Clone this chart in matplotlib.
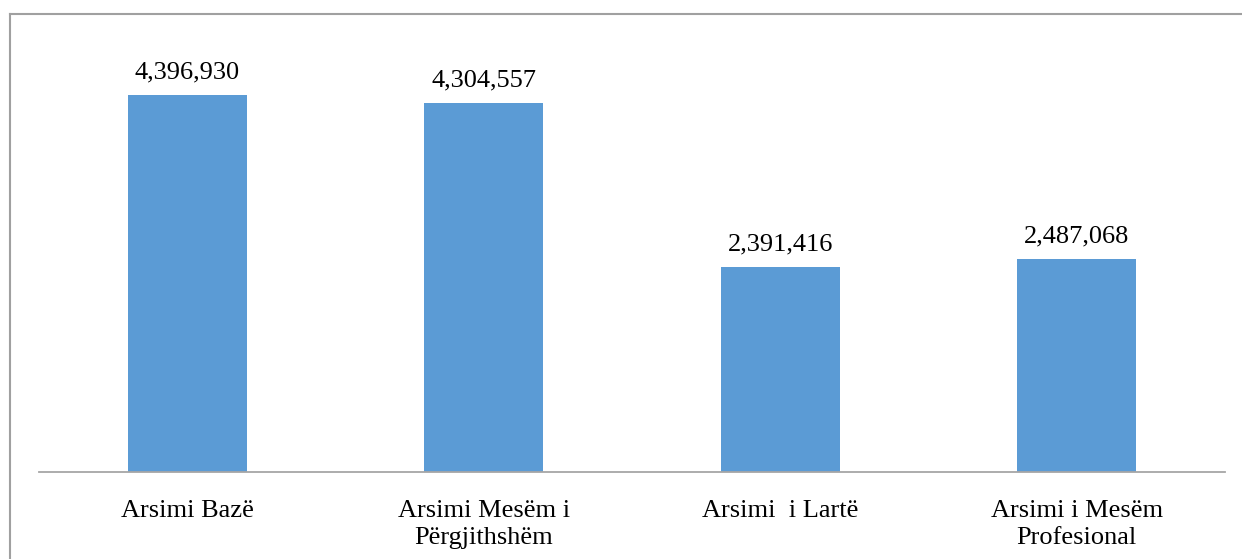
import matplotlib.pyplot as plt
from matplotlib.lines import Line2D

categories = ["Arsimi Bazë", "Arsimi Mesëm i\nPërgjithshëm", "Arsimi  i Lartë", "Arsimi i Mesëm\nProfesional"]
values = [4396930, 4304557, 2391416, 2487068]

plt.rcParams['font.family'] = ['Liberation Serif', 'DejaVu Serif']

fig = plt.figure(figsize=(12.42, 5.59), dpi=100)
ax = fig.add_axes([39 / 1242, 1 - 472 / 559, 1186 / 1242, 429 / 559])

x = range(len(categories))
bars = ax.bar(x, values, width=0.4, color='#5B9BD5')
for b, v in zip(bars, values):
    ax.text(b.get_x() + b.get_width() / 2, v + 130000, f"{v:,}",
            ha='center', va='bottom', fontsize=19, color='black')

ax.set_xlim(-0.5, len(categories) - 0.5)
ax.set_ylim(0, 5000000)
ax.set_xticks(list(x))
ax.set_xticklabels(categories, fontsize=19, linespacing=1.3)
ax.tick_params(axis='x', length=0, pad=20)
ax.set_yticks([])
for s in ['top', 'right', 'left']:
    ax.spines[s].set_visible(False)
ax.spines['bottom'].set_color('#A6A6A6')
ax.spines['bottom'].set_linewidth(1.3)

# chart frame (left and top edges visible)
fig.add_artist(Line2D([10 / 1242, 10 / 1242], [0, 1 - 14 / 559], color='#A0A0A0', lw=1.5))
fig.add_artist(Line2D([10 / 1242, 1], [1 - 14 / 559, 1 - 14 / 559], color='#A0A0A0', lw=1.5))

fig.savefig('out.png', dpi=100)
